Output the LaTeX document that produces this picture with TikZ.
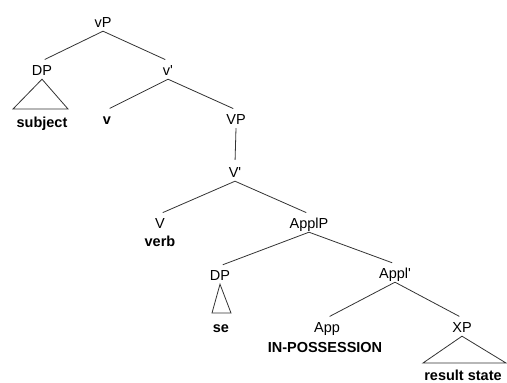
\documentclass[tikz,border=0pt]{standalone}
\usepackage{fontspec}
\setmainfont{Liberation Sans}
\begin{document}
\begin{tikzpicture}[x=1pt,y=-1pt,
  lab/.style={font=\fontsize{14.5}{16}\selectfont, inner xsep=0pt, inner ysep=3.5pt,
              text height=11pt, text depth=0pt},
  word/.style={lab, font=\fontsize{14.5}{16}\selectfont\bfseries},
  branch/.style={line width=0.8pt, draw=black!80, shorten >=3pt},
  tri/.style={line width=0.8pt, draw=black!80, line join=miter}]
\useasboundingbox (0,0) rectangle (507,383);
\newcommand{\pr}{\textquotesingle}

% labels of the tree
\node[lab] (vP)    at (103,22)  {vP};
\node[lab] (DPa)   at (42,70)   {DP};
\node[lab] (vbar)  at (168,70)  {v\pr};
\node[word] (subj) at (42,122)  {subject};
\node[word] (v)    at (107,119) {v};
\node[lab] (VP)    at (236,119) {VP};
\node[lab] (Vbar)  at (235,172) {V\pr};
\node[lab] (V)     at (160,223) {V};
\node[word] (verb) at (160,241) {verb};
\node[lab] (ApplP) at (309,223) {ApplP};
\node[lab] (DPb)   at (220,275) {DP};
\node[lab] (Applbar) at (395,273) {Appl\pr};
\node[word] (se)   at (221,327) {se};
\node[lab] (App)   at (327,327) {App};
\node[word] (poss) at (325,347) {IN-POSSESSION};
\node[lab] (XP)    at (462,327) {XP};
\node[word] (res)  at (463,375) {result state};

% corners of the triangles
\coordinate (sl) at (13,109);  \coordinate (sr) at (68,109);
\coordinate (el) at (212,313); \coordinate (er) at (231,313);
\coordinate (rl) at (423,363); \coordinate (rr) at (506,363);

% branches
\draw[branch] (vP.south) -- (DPa.north);
\draw[branch] (vP.south) -- (vbar.north);
\draw[branch] (vbar.south) -- (v.north);
\draw[branch] (vbar.south) -- (VP.north);
\draw[branch] (VP.south) -- (Vbar.north);
\draw[branch] (Vbar.south) -- (V.north);
\draw[branch] (Vbar.south) -- (ApplP.north);
\draw[branch] (ApplP.south) -- (DPb.north);
\draw[branch] (ApplP.south) -- (Applbar.north);
\draw[branch] (Applbar.south) -- (App.north);
\draw[branch] (Applbar.south) -- (XP.north);

% triangles over unanalysed constituents
\draw[tri] (DPa.south) -- (sl) -- (sr) -- cycle;
\draw[tri] (DPb.south) -- (el) -- (er) -- cycle;
\draw[tri] (XP.south) -- (rl) -- (rr) -- cycle;
\end{tikzpicture}
\end{document}
